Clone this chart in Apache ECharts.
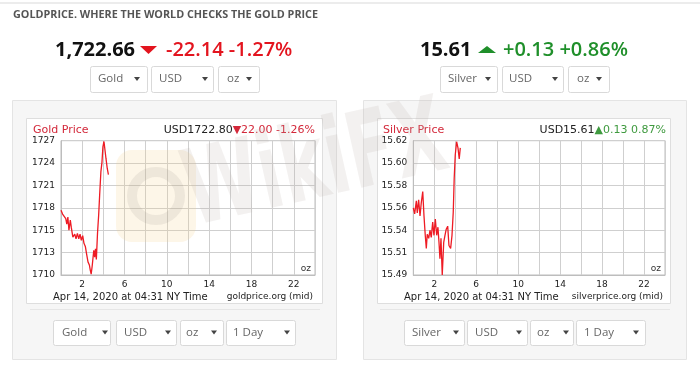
<!DOCTYPE html>
<html>
<head>
<meta charset="utf-8">
<script src="https://cdn.jsdelivr.net/npm/echarts@6/dist/echarts.min.js"></script>
<style>
html,body{margin:0;padding:0;background:#fff;}
#c{width:700px;height:367px;}
</style>
</head>
<body>
<div id="c"></div>
<script>
// ---- data (hours since midnight NY time, price) ----
const goldData = [
  [0.00,1718.5],[0.15,1718.0],[0.30,1717.7],[0.45,1717.4],[0.55,1716.7],[0.65,1717.6],
  [0.75,1715.9],[0.88,1717.2],[0.98,1716.2],[1.12,1715.0],[1.30,1715.4],[1.42,1714.8],
  [1.55,1715.5],[1.68,1714.8],[1.80,1715.4],[1.92,1714.6],[2.05,1715.2],[2.17,1714.2],
  [2.30,1713.8],[2.42,1712.8],[2.55,1711.8],[2.68,1711.4],[2.77,1710.7],[2.85,1710.2],
  [2.95,1711.3],[3.03,1712.4],[3.10,1713.3],[3.18,1712.4],[3.26,1713.5],[3.34,1712.1],
  [3.45,1715.5],[3.56,1717.9],[3.65,1720.4],[3.77,1723.5],[3.87,1724.7],[3.96,1726.7],
  [4.06,1727.4],[4.15,1727.2],[4.25,1725.2],[4.37,1723.9],[4.48,1723.1]
];
const silverData = [
  [0.00,15.558],[0.13,15.552],[0.29,15.565],[0.38,15.553],[0.51,15.566],[0.64,15.550],
  [0.76,15.563],[0.90,15.574],[1.02,15.550],[1.14,15.531],[1.24,15.518],[1.33,15.532],
  [1.47,15.528],[1.59,15.536],[1.71,15.529],[1.85,15.544],[1.97,15.531],[2.10,15.547],
  [2.23,15.531],[2.35,15.539],[2.45,15.524],[2.54,15.508],[2.64,15.528],[2.76,15.492],
  [2.90,15.524],[3.02,15.531],[3.14,15.537],[3.28,15.540],[3.40,15.521],[3.56,15.518],
  [3.69,15.531],[3.81,15.554],[3.90,15.587],[4.00,15.610],[4.13,15.623],[4.26,15.617],
  [4.38,15.606],[4.48,15.617]
];
const xLabels = ['2','6','10','14','18','22'];
const goldYLabels = ['1710','1713','1715','1718','1721','1724','1727'];
const silverYLabels = ['15.49','15.51','15.54','15.56','15.58','15.60','15.62'];

const headerText = 'GOLDPRICE. WHERE THE WORLD CHECKS THE GOLD PRICE';
const goldPrice = '1,722.66';
const goldChange = '-22.14 -1.27%';
const silverPrice = '15.61';
const silverChange = '+0.13 +0.86%';
const goldTitle = 'Gold Price';
const silverTitle = 'Silver Price';
const goldQuote = ['USD1722.80', '\u25BC22.00 -1.26%'];
const silverQuote = ['USD15.61', '\u25B20.13 0.87%'];
const dateText = 'Apr 14, 2020 at 04:31 NY Time';
const goldSource = 'goldprice.org (mid)';
const silverSource = 'silverprice.org (mid)';
const unitText = 'oz';
const topGoldMenus = ['Gold','USD','oz'];
const topSilverMenus = ['Silver','USD','oz'];
const bottomGoldMenus = ['Gold','USD','oz','1 Day'];
const bottomSilverMenus = ['Silver','USD','oz','1 Day'];
const watermarkText = 'WikiFX';

// ---- layout helpers ----
const RED = '#e3141e', GREEN = '#1f8f2a';
function dropdown(x, y, w, h, label, tx, ax) {
  const cy = y + h / 2;
  return [
    {type:'rect', z:1, shape:{x:x+0.5, y:y+0.5, width:w, height:h, r:2},
     style:{fill:'#fff', stroke:'#d9d9d9', lineWidth:1}},
    {type:'text', z:2, style:{x:tx, y:cy, text:label, fill:'#666',
     font:'11.5px "Open Sans"', textVerticalAlign:'middle'}},
    {type:'polygon', z:2, shape:{points:[[ax-3,cy-2],[ax+3,cy-2],[ax,cy+2]]},
     style:{fill:'#444'}}
  ];
}
const g = [];
g.push({type:'rect', z:-5, shape:{x:0,y:2,width:700,height:2}, style:{fill:'#ececec'}});
g.push({type:'text', z:2, style:{x:13, y:15, text:headerText, fill:'#555',
  font:'bold 10.8px "Open Sans"', textVerticalAlign:'middle'}});
// prices
g.push({type:'text', z:2, style:{x:55, y:50, text:goldPrice, fill:'#111',
  font:'bold 20px "Open Sans"', textVerticalAlign:'middle'}});
g.push({type:'polygon', z:2, shape:{points:[[140,46],[157,46],[148.5,54]]}, style:{fill:RED}});
g.push({type:'text', z:2, style:{x:166, y:50, text:goldChange, fill:RED,
  font:'600 20px "Open Sans"', textVerticalAlign:'middle'}});
g.push({type:'text', z:2, style:{x:420, y:50, text:silverPrice, fill:'#111',
  font:'bold 20px "Open Sans"', textVerticalAlign:'middle'}});
g.push({type:'polygon', z:2, shape:{points:[[478,53],[496,53],[487,46]]}, style:{fill:GREEN}});
g.push({type:'text', z:2, style:{x:503, y:50, text:silverChange, fill:GREEN,
  font:'600 20px "Open Sans"', textVerticalAlign:'middle'}});
// top menus
[[90,57,98,137],[151,62,159,205],[218,41,227,249]].forEach((d,i)=>g.push(...dropdown(d[0],66,d[1],26,topGoldMenus[i],d[2],d[3])));
[[440,57,448,488],[502,61,509,555],[568,41,577,599]].forEach((d,i)=>g.push(...dropdown(d[0],66,d[1],26,topSilverMenus[i],d[2],d[3])));
// panels
[[12,324],[363,323]].forEach(p=>{
  g.push({type:'rect', z:-10, shape:{x:p[0]+0.5,y:100.5,width:p[1],height:259},
    style:{fill:'#f6f6f6', stroke:'#e4e4e4', lineWidth:1}});
});
g.push({type:'rect', z:-9, shape:{x:26.5,y:118.5,width:296,height:185}, style:{fill:'#fff', stroke:'#dedede'}});
g.push({type:'rect', z:-9, shape:{x:377.5,y:118.5,width:293,height:185}, style:{fill:'#fff', stroke:'#dedede'}});
g.push({type:'rect', z:-8, shape:{x:30,y:309,width:290,height:1}, style:{fill:'#e6e6e6'}});
g.push({type:'rect', z:-8, shape:{x:380,y:309,width:290,height:1}, style:{fill:'#e6e6e6'}});
// chart titles
const titleFont = '11px "DejaVu Sans"';
g.push({type:'text', z:3, style:{x:33, y:130, text:goldTitle, fill:'#d3283a', font:titleFont, textVerticalAlign:'middle'}});
g.push({type:'text', z:3, style:{x:383, y:130, text:silverTitle, fill:'#d3283a', font:titleFont, textVerticalAlign:'middle'}});
g.push({type:'text', z:3, style:{x:315, y:130, textAlign:'right', textVerticalAlign:'middle',
  text:'{a|'+goldQuote[0]+'}{b|'+goldQuote[1]+'}',
  rich:{a:{fill:'#222', font:titleFont}, b:{fill:'#d3283a', font:titleFont}}}});
g.push({type:'text', z:3, style:{x:666, y:130, textAlign:'right', textVerticalAlign:'middle',
  text:'{a|'+silverQuote[0]+'}{b|'+silverQuote[1]+'}',
  rich:{a:{fill:'#222', font:titleFont}, b:{fill:'#3f9a3f', font:titleFont}}}});
// footer texts
g.push({type:'text', z:3, style:{x:53, y:297, text:dateText, fill:'#222', font:'10px "DejaVu Sans"', textVerticalAlign:'middle'}});
g.push({type:'text', z:3, style:{x:404, y:297, text:dateText, fill:'#222', font:'10px "DejaVu Sans"', textVerticalAlign:'middle'}});
g.push({type:'text', z:3, style:{x:313, y:297, text:goldSource, fill:'#222', font:'9px "DejaVu Sans"', textAlign:'right', textVerticalAlign:'middle'}});
g.push({type:'text', z:3, style:{x:663, y:297, text:silverSource, fill:'#222', font:'9px "DejaVu Sans"', textAlign:'right', textVerticalAlign:'middle'}});
g.push({type:'text', z:3, style:{x:311, y:269, text:unitText, fill:'#333', font:'9px "DejaVu Sans"', textAlign:'right', textVerticalAlign:'middle'}});
g.push({type:'text', z:3, style:{x:661, y:269, text:unitText, fill:'#333', font:'9px "DejaVu Sans"', textAlign:'right', textVerticalAlign:'middle'}});
// bottom menus
[[53,57,62,105],[116,60,124,168],[180,43,186,214],[226,69,233,287]].forEach((d,i)=>g.push(...dropdown(d[0],320,d[1],25,bottomGoldMenus[i],d[2],d[3])));
[[404,60,412,456],[467,60,475,519],[530,43,537,566],[576,69,584,636]].forEach((d,i)=>g.push(...dropdown(d[0],320,d[1],25,bottomSilverMenus[i],d[2],d[3])));
// faint watermark
g.push({type:'rect', z:50, shape:{x:116,y:150,width:80,height:92,r:16}, style:{fill:'rgba(247,210,140,0.2)'}});
g.push({type:'circle', z:51, shape:{cx:156,cy:196,r:24}, style:{fill:'none', stroke:'rgba(150,140,135,0.14)', lineWidth:10}});
g.push({type:'text', z:50, x:198, y:250, rotation:0.22, scaleX:0.68, scaleY:1.05, style:{x:0, y:0, text:watermarkText,
  fill:'rgba(185,170,165,0.17)', font:'bold 100px "DejaVu Sans"', textVerticalAlign:'bottom'}});

const axisFont = {fontFamily:'DejaVu Sans', fontSize:9, color:'#222'};
function xAx(i){
  return {type:'value', gridIndex:i, min:0, max:24, interval:2,
    axisLine:{show:true, lineStyle:{color:'#bdbdbd'}}, axisTick:{show:false},
    splitLine:{show:true, lineStyle:{color:'#cfcfcf'}},
    axisLabel:Object.assign({margin:5, formatter:v=>xLabels.indexOf(String(v))>=0?String(v):''}, axisFont)};
}
function yAx(i, min, max, interval, labels){
  return {type:'value', gridIndex:i, min:min, max:max, interval:interval,
    axisLine:{show:true, lineStyle:{color:'#bdbdbd'}}, axisTick:{show:false},
    splitLine:{show:true, lineStyle:{color:'#cfcfcf'}},
    axisLabel:Object.assign({margin:6, formatter:(v,idx)=>labels[idx]!==undefined?labels[idx]:''}, axisFont)};
}
const chart = echarts.init(document.getElementById('c'), null, {renderer:'canvas'});
chart.setOption({
  animation:false,
  backgroundColor:'#fff',
  grid:[
    {left:61, top:140.7, width:254, height:134.3, show:true, borderColor:'#bdbdbd', borderWidth:1, backgroundColor:'transparent'},
    {left:413.3, top:140.7, width:251.7, height:134.3, show:true, borderColor:'#bdbdbd', borderWidth:1, backgroundColor:'transparent'}
  ],
  xAxis:[xAx(0), xAx(1)],
  yAxis:[yAx(0,1710.1,1727.5,2.9,goldYLabels), yAx(1,15.492,15.624,0.022,silverYLabels)],
  series:[
    {type:'line', xAxisIndex:0, yAxisIndex:0, data:goldData, showSymbol:false, symbol:'none',
     lineStyle:{color:'#ee1b24', width:1.3}},
    {type:'line', xAxisIndex:1, yAxisIndex:1, data:silverData, showSymbol:false, symbol:'none',
     lineStyle:{color:'#ee1b24', width:1.3}}
  ],
  graphic:{elements:g}
});
</script>
</body>
</html>
